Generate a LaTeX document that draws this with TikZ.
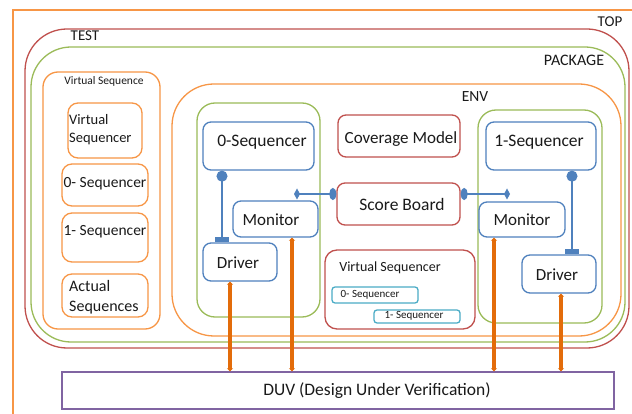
\documentclass[tikz,border=0pt]{standalone}
\usepackage{fontspec}
\setmainfont{Carlito}
\usetikzlibrary{arrows.meta}
\definecolor{cOr}{HTML}{F79646}
\definecolor{cRed}{HTML}{C0504D}
\definecolor{cGr}{HTML}{9BBB59}
\definecolor{cBl}{HTML}{4F81BD}
\definecolor{cPu}{HTML}{8064A2}
\definecolor{cCy}{HTML}{4BACC6}
\definecolor{cAr}{HTML}{E36C0A}
\definecolor{cTx}{HTML}{1A1A1A}
\begin{document}
\begin{tikzpicture}[x=1pt,y=-1pt,
  box/.style={draw, line width=1.3pt, inner sep=0pt, anchor=center},
  orbox/.style={box, draw=cOr},
  redbox/.style={box, draw=cRed},
  grbox/.style={box, draw=cGr},
  blbox/.style={box, draw=cBl},
  cybox/.style={box, draw=cCy, rounded corners=3pt},
  txt/.style={inner sep=0pt, text=cTx, anchor=center},
  fs/.style={font=\fontsize{#1}{#1}\selectfont},
  duvarr/.style={draw=cAr, line width=3.5pt, {Triangle[length=3pt,width=6pt]}-{Triangle[length=3pt,width=6pt]}},
  ballsq/.style={draw=cBl, line width=1.2pt, {Circle[length=11pt,width=11pt]}-{Rectangle[length=5pt,width=14pt]}},
  sbleft/.style={draw=cBl, line width=1.2pt, {Diamond[length=6pt,width=11pt]}-{Ellipse[length=7pt,width=12pt]}},
  sbright/.style={draw=cBl, line width=1.2pt, {Ellipse[length=7pt,width=12pt]}-{Diamond[length=6pt,width=11pt]}}
]
\useasboundingbox (0,0) rectangle (632,414);
\fill[white] (0,0) rectangle (632,414);
\clip (0,0) rectangle (632,414);

% containers
\node[orbox, minimum width=637pt, minimum height=420pt] (top) at (331.5,220) {};
\node[redbox, rounded corners=42pt, minimum width=604pt, minimum height=319pt] (test) at (327,188.5) {};
\node[grbox, rounded corners=40pt, minimum width=594pt, minimum height=295pt] (package) at (328,194.5) {};
\node[orbox, rounded corners=42pt, minimum width=449pt, minimum height=252pt] (env) at (396.5,210) {};
\node[orbox, rounded corners=15pt, minimum width=117pt, minimum height=257pt] (vseq) at (101.5,200.5) {};

% labels of containers
\node[txt, fs=15] (ttop) at (610,22) {TOP};
\node[txt, fs=15] (ttest) at (85,36) {TEST};
\node[txt, fs=16] (tpack) at (574,60) {PACKAGE};
\node[txt, fs=15.5] (tenv) at (475,97) {ENV};
\node[txt, fs=11.5] (tvseq) at (104,81) {Virtual Sequence};

% virtual sequence contents
\node[orbox, rounded corners=10pt, minimum width=74pt, minimum height=55pt] (vsqr) at (105,130.5) {};
\node[orbox, rounded corners=10pt, minimum width=86pt, minimum height=42pt] (lseq0) at (105,185) {};
\node[orbox, rounded corners=10pt, minimum width=86pt, minimum height=49pt] (lseq1) at (105,237.5) {};
\node[orbox, rounded corners=10pt, minimum width=86pt, minimum height=43pt] (actual) at (105,295.5) {};
\node[txt, anchor=west, align=left, font=\fontsize{14.5}{18}\selectfont] (tvsqr) at (69,130) {Virtual\\Sequencer};
\node[txt, fs=15.5] (tl0) at (105,184) {0- Sequencer};
\node[txt, fs=15.5] (tl1) at (105,232) {1- Sequencer};
\node[txt, anchor=west, align=left, font=\fontsize{16}{20}\selectfont] (tact) at (69,297) {Actual\\Sequences};

% agent 0
\node[grbox, rounded corners=18pt, minimum width=123pt, minimum height=214pt] (agent0) at (258.5,210) {};
\node[blbox, rounded corners=8pt, fill=white, minimum width=111pt, minimum height=48pt] (seq0) at (258.5,146) {};
\node[blbox, rounded corners=8pt, fill=white, minimum width=85pt, minimum height=36pt] (mon0) at (275.5,219) {};
\node[blbox, rounded corners=8pt, fill=white, minimum width=74pt, minimum height=38pt] (drv0) at (240,262) {};
\node[txt, fs=17.5] (tseq0) at (262,142) {0-Sequencer};
\node[txt, fs=17] (tmon0) at (271,220) {Monitor};
\node[txt, fs=17] (tdrv0) at (238,263) {Driver};

% middle
\node[redbox, rounded corners=8pt, minimum width=122pt, minimum height=42pt] (cov) at (399,136) {};
\node[redbox, rounded corners=8pt, minimum width=123pt, minimum height=42pt] (sb) at (398.5,204) {};
\node[txt, fs=17] (tcov) at (401,139) {Coverage Model};
\node[txt, fs=17.5] (tsb) at (402,204) {Score Board};
\node[redbox, rounded corners=12pt, minimum width=150pt, minimum height=79pt] (vsq) at (400,289.5) {};
\node[txt, fs=14] (tvsq) at (390,268) {Virtual Sequencer};
\node[cybox, minimum width=86pt, minimum height=16pt] (in0) at (375,295) {};
\node[cybox, minimum width=86pt, minimum height=13pt] (in1) at (417,316.5) {};
\node[txt, fs=11] (tin0) at (370,295) {0- Sequencer};
\node[txt, fs=11] (tin1) at (414,316) {1- Sequencer};

% agent 1
\node[grbox, rounded corners=18pt, minimum width=124pt, minimum height=213pt] (agent1) at (540,216.5) {};
\node[blbox, rounded corners=8pt, fill=white, minimum width=110pt, minimum height=48pt] (seq1) at (541,146) {};
\node[blbox, rounded corners=8pt, fill=white, minimum width=86pt, minimum height=35pt] (mon1) at (522,219.5) {};
\node[blbox, rounded corners=8pt, fill=white, minimum width=74pt, minimum height=38pt] (drv1) at (559,274) {};
\node[txt, fs=17.5] (tseq1) at (539,142) {1-Sequencer};
\node[txt, fs=17] (tmon1) at (522,220) {Monitor};
\node[txt, fs=17] (tdrv1) at (557,275) {Driver};

% DUV
\node[box, draw=cPu, minimum width=552pt, minimum height=37pt] (duv) at (338,390.5) {};
\node[txt, fs=17.5] (tduv) at (377,391) {DUV (Design Under Verification)};

% sequencer -> driver
\coordinate (c0) at (222,0);
\coordinate (c1) at (572,0);
\draw[ballsq] (seq0.south -| c0) -- (drv0.north -| c0);
\draw[ballsq] (seq1.south -| c1) -- (drv1.north -| c1);

% scoreboard connectors
\coordinate (cl) at (294,194);
\coordinate (cr) at (510,194);
\draw[sbleft] (cl) -- (cl -| sb.west);
\draw[sbright] (cr -| sb.east) -- (cr);

% DUV arrows
\coordinate (a1) at (230,0);
\coordinate (a2) at (292,0);
\coordinate (a3) at (494,0);
\coordinate (a4) at (561,0);
\draw[duvarr] (drv0.south -| a1) -- (duv.north -| a1);
\draw[duvarr] (mon0.south -| a2) -- (duv.north -| a2);
\draw[duvarr] (mon1.south -| a3) -- (duv.north -| a3);
\draw[duvarr] (drv1.south -| a4) -- (duv.north -| a4);
\end{tikzpicture}
\end{document}
